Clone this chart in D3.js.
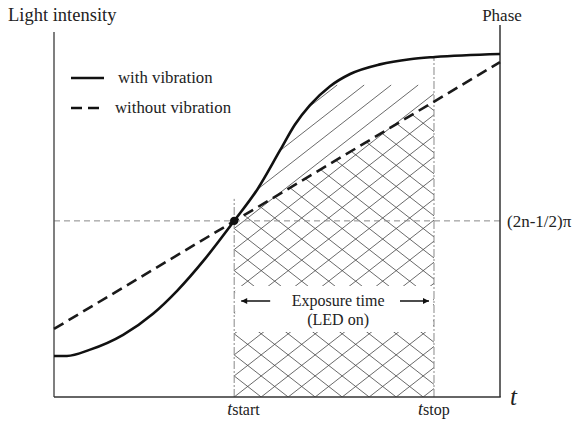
<!DOCTYPE html>
<html>
<head>
<meta charset="utf-8">
<script src="https://cdn.jsdelivr.net/npm/d3@7"></script>
<style>
  body { margin: 0; background: #fff; }
  text { font-family: "Liberation Serif", "Times New Roman", serif; fill: #222; }
</style>
</head>
<body>
<div id="chart"></div>
<script>
// time axis (arbitrary units) and light intensity readings
const timeValues = [0, 0.29, 0.81, 1.55, 2.22, 2.76, 3.39, 4.04, 4.57, 5.07, 5.40, 5.74, 6.19, 6.64, 7.31, 7.98, 8.54, 10];
const withVibration = [1.11, 1.11, 1.28, 1.68, 2.25, 2.87, 3.74, 4.76, 5.63, 6.67, 7.36, 7.89, 8.40, 8.73, 8.99, 9.13, 9.19, 9.27];
const lineTimes = [0, 10];
const withoutVibration = [1.84, 9.05];

const tStart = 4.04;
const tStop = 8.52;
const phaseLevel = 4.76;

const legendLabels = ['with vibration', 'without vibration'];

const width = 584;
const height = 421;
const margin = {top: 27, right: 84, bottom: 24, left: 54};
const chartWidth = width - margin.left - margin.right;
const chartHeight = height - margin.top - margin.bottom;

const xScale = d3.scaleLinear().domain([0, 10]).range([margin.left, margin.left + chartWidth]);
const yScale = d3.scaleLinear().domain([0, 10]).range([margin.top + chartHeight, margin.top]);

const solidData = timeValues.map((t, i) => ({t, v: withVibration[i]}));
const dashedData = lineTimes.map((t, i) => ({t, v: withoutVibration[i]}));

const svg = d3.select('#chart').append('svg')
    .attr('width', width)
    .attr('height', height)
    .attr('font-family', '"Liberation Serif", "Times New Roman", serif');

const x0 = xScale(0), x1 = xScale(10);
const yBottom = yScale(0);

const line = d3.line()
    .x(d => xScale(d.t))
    .y(d => yScale(d.v))
    .curve(d3.curveMonotoneX);

const defs = svg.append('defs');

// sample the rendered solid curve at a given x
const tmpPath = svg.append('path').attr('d', line(solidData)).attr('fill', 'none');
const tmpNode = tmpPath.node();
const total = tmpNode.getTotalLength();
function solidYAt(px) {
    let lo = 0, hi = total;
    for (let i = 0; i < 40; i++) {
        const mid = (lo + hi) / 2;
        if (tmpNode.getPointAtLength(mid).x < px) lo = mid; else hi = mid;
    }
    return tmpNode.getPointAtLength(lo).y;
}
tmpPath.remove();

const xs = xScale(tStart), xe = xScale(tStop);
const sampleX = d3.range(0, 81).map(i => xs + (xe - xs) * i / 80);

// clip areas under each curve between tStart and tStop
const solidArea = d3.area()
    .x(d => d)
    .y0(yBottom)
    .y1(d => solidYAt(d));
const dashY = d3.scaleLinear().domain(lineTimes.map(xScale)).range(withoutVibration.map(yScale));
const dashedArea = d3.area()
    .x(d => d)
    .y0(yBottom)
    .y1(d => dashY(d));

defs.append('clipPath').attr('id', 'clip-solid')
  .append('path').attr('d', solidArea(sampleX));
defs.append('clipPath').attr('id', 'clip-dashed')
  .append('path').attr('d', dashedArea(sampleX));

const slope = 0.78;
const step = 27;
const offsets = d3.range(-20, 30).map(k => xs + k * step);

// "/" hatching up to the solid curve
svg.append('g')
    .attr('clip-path', 'url(#clip-solid)')
  .selectAll('line')
  .data(offsets)
  .join('line')
    .attr('x1', c => c)
    .attr('y1', yBottom)
    .attr('x2', c => c + 400)
    .attr('y2', yBottom - 400 * slope)
    .attr('stroke', '#444')
    .attr('stroke-width', 0.8);

// "\" hatching up to the dashed line
svg.append('g')
    .attr('clip-path', 'url(#clip-dashed)')
  .selectAll('line')
  .data(offsets)
  .join('line')
    .attr('x1', c => c)
    .attr('y1', yBottom)
    .attr('x2', c => c - 400)
    .attr('y2', yBottom - 400 * slope)
    .attr('stroke', '#444')
    .attr('stroke-width', 0.8);

// gap for the exposure label
svg.append('rect')
    .attr('x', xs + 1)
    .attr('y', 286)
    .attr('width', xe - xs - 2)
    .attr('height', 46)
    .attr('fill', '#fff');

// phase reference line
svg.append('line')
    .attr('x1', x0).attr('x2', x1)
    .attr('y1', yScale(phaseLevel)).attr('y2', yScale(phaseLevel))
    .attr('stroke', '#888')
    .attr('stroke-width', 1)
    .attr('stroke-dasharray', '6,4');

// tstart / tstop markers
svg.append('line')
    .attr('x1', xs).attr('x2', xs)
    .attr('y1', yBottom).attr('y2', yScale(phaseLevel) - 22)
    .attr('stroke', '#888')
    .attr('stroke-width', 1)
    .attr('stroke-dasharray', '8,2,2,2');
svg.append('line')
    .attr('x1', xe).attr('x2', xe)
    .attr('y1', yBottom).attr('y2', solidYAt(xe))
    .attr('stroke', '#888')
    .attr('stroke-width', 1)
    .attr('stroke-dasharray', '8,2,2,2');

// axes
svg.append('line')
    .attr('x1', x0).attr('x2', x0)
    .attr('y1', 32).attr('y2', yBottom)
    .attr('stroke', '#555').attr('stroke-width', 1.5);
svg.append('line')
    .attr('x1', x1).attr('x2', x1)
    .attr('y1', 25).attr('y2', yBottom)
    .attr('stroke', '#333').attr('stroke-width', 1.5);
svg.append('line')
    .attr('x1', x0).attr('x2', x1 + 0.75)
    .attr('y1', yBottom).attr('y2', yBottom)
    .attr('stroke', '#333').attr('stroke-width', 1.5);

// curves
svg.append('path')
    .datum(dashedData)
    .attr('d', d3.line().x(d => xScale(d.t)).y(d => yScale(d.v)))
    .attr('fill', 'none')
    .attr('stroke', '#1a1a1a')
    .attr('stroke-width', 2.6)
    .attr('stroke-dasharray', '11,6');

svg.append('path')
    .datum(solidData)
    .attr('d', line)
    .attr('fill', 'none')
    .attr('stroke', '#111')
    .attr('stroke-width', 2.6);

svg.append('circle')
    .attr('cx', xs)
    .attr('cy', yScale(phaseLevel))
    .attr('r', 4.2)
    .attr('fill', '#111');

// exposure label and arrows
defs.append('marker')
    .attr('id', 'arrow')
    .attr('viewBox', '0 0 10 10')
    .attr('refX', 10).attr('refY', 5)
    .attr('markerWidth', 9).attr('markerHeight', 6)
    .attr('markerUnits', 'userSpaceOnUse')
    .attr('orient', 'auto')
  .append('path')
    .attr('d', 'M0,0L10,5L0,10Z')
    .attr('fill', '#111');

const arrowY = 301;
svg.append('line')
    .attr('x1', xs + 36).attr('x2', xs + 7)
    .attr('y1', arrowY).attr('y2', arrowY)
    .attr('stroke', '#111').attr('stroke-width', 1.5)
    .attr('marker-end', 'url(#arrow)');
svg.append('line')
    .attr('x1', xe - 34).attr('x2', xe - 5)
    .attr('y1', arrowY).attr('y2', arrowY)
    .attr('stroke', '#111').attr('stroke-width', 1.5)
    .attr('marker-end', 'url(#arrow)');

const midX = (xs + xe) / 2 + 4;
svg.append('text')
    .attr('x', midX).attr('y', 306)
    .attr('text-anchor', 'middle')
    .attr('font-size', 16)
    .text('Exposure time');
svg.append('text')
    .attr('x', midX).attr('y', 325)
    .attr('text-anchor', 'middle')
    .attr('font-size', 16)
    .text('(LED on)');

// axis titles
svg.append('text')
    .attr('x', 8).attr('y', 21)
    .attr('font-size', 18.5)
    .text('Light intensity');
svg.append('text')
    .attr('x', x1 + 2).attr('y', 21)
    .attr('text-anchor', 'middle')
    .attr('font-size', 17)
    .text('Phase');
svg.append('text')
    .attr('x', x1 + 7).attr('y', yScale(phaseLevel) + 6)
    .attr('font-size', 17)
    .text('(2n-1/2)π');
svg.append('text')
    .attr('x', x1 + 10).attr('y', 405)
    .attr('font-size', 25)
    .attr('font-style', 'italic')
    .text('t');

function tLabel(px, sub) {
    const txt = svg.append('text')
        .attr('x', px).attr('y', 415)
        .attr('font-size', 16);
    txt.append('tspan').attr('font-style', 'italic').attr('font-size', 18).text('t');
    txt.append('tspan').text(sub);
}
tLabel(xs - 7, 'start');
tLabel(xe - 16, 'stop');

// legend
const legend = svg.append('g');
legendLabels.forEach((label, i) => {
    const y = i === 0 ? 78 : 108;
    legend.append('line')
        .attr('x1', 71).attr('x2', 104)
        .attr('y1', y).attr('y2', y)
        .attr('stroke', '#111')
        .attr('stroke-width', 2.6)
        .attr('stroke-dasharray', i === 0 ? null : '11,6');
    legend.append('text')
        .attr('x', i === 0 ? 118 : 115)
        .attr('y', y + 5)
        .attr('font-size', 16.8)
        .text(label);
});
</script>
</body>
</html>
